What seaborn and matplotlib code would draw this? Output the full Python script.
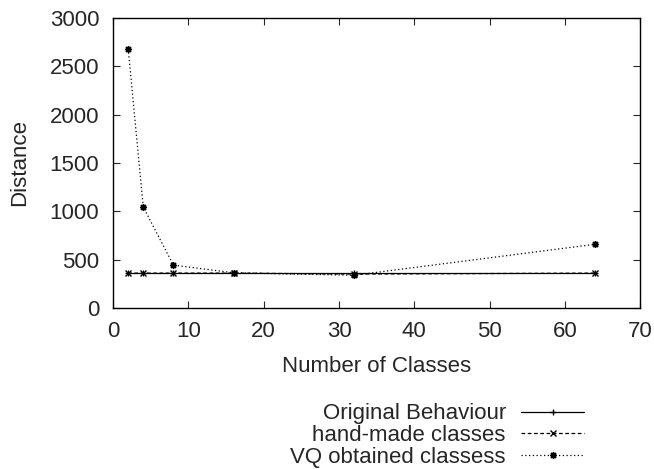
import matplotlib
matplotlib.use("Agg")
import matplotlib.pyplot as plt
import pandas as pd
import seaborn as sns

classes = [2, 4, 8, 16, 32, 64]
original = [362, 362, 362, 362, 362, 362]
handmade = [362, 362, 362, 362, 352, 362]
vq = [2680, 1045, 445, 365, 340, 660]
series = ["Original Behaviour", "hand-made classes", "VQ obtained classess"]

df = pd.DataFrame({
    "classes": classes * 3,
    "distance": original + handmade + vq,
    "series": [s for s in series for _ in classes],
})

sns.set_style("ticks")
plt.rcParams["font.family"] = ["Liberation Sans", "DejaVu Sans"]
fs = 16

fig = plt.figure(figsize=(6.54, 4.69), dpi=100)
ax = fig.add_axes([0.173, 0.343, 0.806, 0.619])

sns.lineplot(
    data=df, x="classes", y="distance", hue="series", style="series",
    palette=["black"] * 3,
    dashes={series[0]: "", series[1]: (3, 2), series[2]: (1, 2)},
    markers={series[0]: "+", series[1]: "x", series[2]: (8, 2, 0)},
    markersize=5, markeredgewidth=1, markeredgecolor="black",
    linewidth=0.9, ax=ax, legend=False,
)

ax.set_xlim(0, 70)
ax.set_ylim(0, 3000)
ax.set_xticks(range(0, 71, 10))
ax.set_yticks(range(0, 3001, 500))
ax.tick_params(direction="in", top=True, right=True, labelsize=fs, length=5)
ax.tick_params(axis="x", pad=9)
ax.tick_params(axis="y", pad=10)
for sp in ax.spines.values():
    sp.set_linewidth(1)
    sp.set_color("black")
ax.set_xlabel("Number of Classes", fontsize=fs)
ax.set_ylabel("Distance", fontsize=fs)
ax.xaxis.set_label_coords(0.5, -0.165)
ax.yaxis.set_label_coords(-0.158, 0.5)

handles = ax.get_lines()[:3]
fig.legend(handles, series, loc="lower right", bbox_to_anchor=(0.906, -0.016),
           markerfirst=False, frameon=False, fontsize=fs, handlelength=2.8,
           labelspacing=0.03, handletextpad=0.7, numpoints=1,
           borderaxespad=0.0)

fig.savefig("out.png", dpi=100)
